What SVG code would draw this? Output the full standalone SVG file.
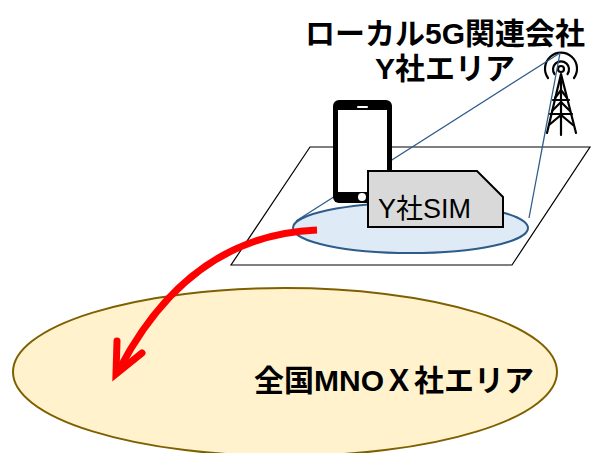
<svg xmlns="http://www.w3.org/2000/svg" width="598" height="453" viewBox="0 0 598 453">
  <style>
    .label { font-family: "Liberation Sans", "Noto Sans CJK JP", sans-serif; fill: #000; }
    .bold { font-weight: bold; }
    .link { stroke: #2e5c8a; stroke-width: 1.3; fill: none; }
    .tower { stroke: #000; stroke-width: 2.2; fill: none; stroke-linecap: round; }
  </style>

  <!-- nationwide MNO coverage -->
  <g id="mno-area">
    <ellipse cx="285" cy="372" rx="272" ry="84" fill="#fff2cc" stroke="#7f6000" stroke-width="2"/>
    <text class="label bold" x="394" y="391" font-size="30" text-anchor="middle">全国MNOＸ社エリア</text>
  </g>

  <!-- local 5G plane -->
  <g id="local-plane">
    <polygon points="310,147 590,147 512,265 231,265" fill="none" stroke="#000" stroke-width="1.2"/>
    <ellipse cx="410.5" cy="228" rx="117.5" ry="25" fill="#deebf7" stroke="#2e5c8a" stroke-width="2"/>
  </g>

  <!-- antenna tower -->
  <g id="tower">
    <circle cx="561" cy="69" r="3" class="tower"/>
    <path class="tower" d="M554.5,74 A8,8 0 1 1 567.5,74"/>
    <path class="tower" d="M548,78 A16,16 0 1 1 574,78"/>
    <path class="tower" d="M561,74 L547,133 M561,74 L576,133 M561,74 V135"/>
    <path class="tower" d="M555,98 L561,90 L567,98 M552,111 L561,102 L570,111 M549,125 L561,115 L573,125"/>
    <path class="tower" d="M553,100 H569 M550,114 H572"/>
  </g>

  <!-- radio links -->
  <g id="connectors">
    <line class="link" x1="560" y1="53" x2="296" y2="221"/>
    <line class="link" x1="560" y1="53" x2="529" y2="218"/>
  </g>

  <!-- smartphone -->
  <g id="phone">
    <rect x="333" y="100" width="59" height="103" rx="6" fill="#000"/>
    <rect x="338" y="110" width="49" height="82" fill="#fff"/>
    <rect x="357" y="106" width="11" height="2" rx="1" fill="#fff"/>
    <circle cx="362" cy="197" r="4" fill="#fff"/>
  </g>

  <!-- SIM card -->
  <g id="sim">
    <polygon points="368,171 477,171 503,197 503,227 368,227" fill="#d9d9d9" stroke="#000" stroke-width="2"/>
    <text class="label" x="378" y="218" font-size="27">Y社SIM</text>
  </g>

  <!-- local 5G operator title -->
  <g id="title">
    <text class="label bold" x="445" y="44" font-size="30" text-anchor="middle">ローカル5G関連会社</text>
    <text class="label bold" x="445" y="79" font-size="30" text-anchor="middle">Y社エリア</text>
  </g>

  <!-- handover arrow -->
  <g id="arrow" fill="none" stroke="#ff0000" stroke-width="7">
    <path d="M317,230 Q190,235 120,368"/>
    <polyline points="117,341 116,374 142,353" stroke-linecap="round" stroke-linejoin="miter"/>
  </g>
</svg>
